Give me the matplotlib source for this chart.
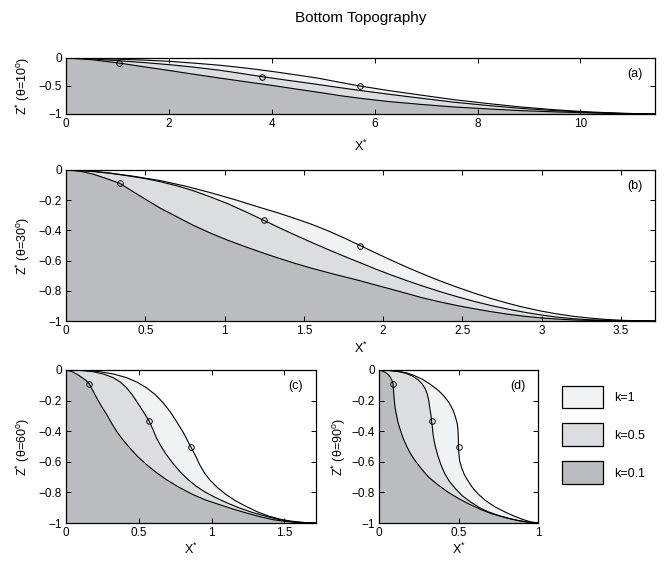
import matplotlib
matplotlib.use("Agg")
import matplotlib.pyplot as plt
from matplotlib.patches import Patch
from matplotlib.ticker import FuncFormatter

plt.rcParams["font.family"] = ["Liberation Sans", "DejaVu Sans"]
plt.rcParams["mathtext.fontset"] = "custom"
plt.rcParams["mathtext.rm"] = "Liberation Sans"
plt.rcParams["mathtext.it"] = "Liberation Sans:italic"
plt.rcParams["axes.linewidth"] = 0.9

# ---- bottom profiles (X*, Z*) for k = 1, 0.5, 0.1 at each wave angle ----
# theta = 10 deg
A_X_K1 = [0, 0.5, 1.0, 1.5, 2.02, 2.5, 3.0, 3.5, 4.01, 4.5, 4.9, 5.3, 5.71, 6.3, 6.92, 7.55,
          8.22, 8.85, 9.51, 10.15, 10.81, 11.45]
A_Z_K1 = [0, -0.005, -0.02, -0.037, -0.06, -0.092, -0.13, -0.18, -0.24, -0.305, -0.36, -0.43,
          -0.5, -0.585, -0.665, -0.745, -0.815, -0.875, -0.925, -0.962, -0.987, -1.0]
A_X_K05 = [0, 0.5, 1.04, 1.5, 2.02, 2.5, 3.0, 3.4, 3.81, 4.3, 4.8, 5.25, 5.72, 6.3, 6.92, 7.55,
           8.22, 8.85, 9.51, 10.15, 10.81, 11.45]
A_Z_K05 = [0, -0.015, -0.05, -0.08, -0.12, -0.165, -0.22, -0.275, -0.333, -0.397, -0.46, -0.52,
           -0.58, -0.65, -0.72, -0.79, -0.85, -0.9, -0.94, -0.97, -0.99, -1.0]
A_X_K01 = [0, 0.5, 1.04, 1.5, 2.02, 2.5, 3.0, 3.5, 4.01, 4.5, 5.0, 5.35, 5.72, 6.3, 6.92, 7.55,
           8.22, 8.85, 9.51, 10.15, 10.81, 11.45]
A_Z_K01 = [0, -0.03, -0.091, -0.155, -0.225, -0.292, -0.36, -0.425, -0.49, -0.558, -0.625, -0.675,
           -0.72, -0.78, -0.83, -0.875, -0.91, -0.94, -0.962, -0.98, -0.992, -1.0]

# theta = 30 deg
B_X_K1 = [0, 0.15, 0.275, 0.43, 0.593, 0.75, 0.911, 1.07, 1.229, 1.34, 1.441, 1.55, 1.653, 1.754,
          1.854, 1.95, 2.042, 2.15, 2.253, 2.36, 2.463, 2.57, 2.674, 2.78, 2.885, 2.99, 3.095,
          3.2, 3.306, 3.41, 3.517, 3.714]
B_Z_K1 = [0, -0.006, -0.02, -0.042, -0.07, -0.106, -0.15, -0.198, -0.25, -0.285, -0.32, -0.36,
          -0.403, -0.45, -0.5, -0.548, -0.593, -0.644, -0.69, -0.735, -0.775, -0.814, -0.849,
          -0.881, -0.909, -0.933, -0.953, -0.969, -0.981, -0.99, -0.996, -1.0]
B_X_K05 = [0, 0.169, 0.28, 0.381, 0.49, 0.593, 0.7, 0.805, 0.91, 1.017, 1.13, 1.246, 1.34, 1.441,
           1.55, 1.653, 1.76, 1.864, 1.95, 2.042, 2.15, 2.253, 2.36, 2.463, 2.57, 2.674, 2.78,
           2.885, 2.99, 3.095, 3.2, 3.306, 3.5, 3.714]
B_Z_K05 = [0, -0.01, -0.022, -0.037, -0.055, -0.077, -0.105, -0.138, -0.178, -0.222, -0.275,
           -0.333, -0.38, -0.429, -0.48, -0.527, -0.574, -0.618, -0.655, -0.692, -0.733, -0.77,
           -0.806, -0.838, -0.869, -0.896, -0.92, -0.941, -0.959, -0.974, -0.985, -0.992, -0.998,
           -1.0]
B_X_K01 = [0, 0.085, 0.169, 0.25, 0.339, 0.41, 0.487, 0.59, 0.699, 0.8, 0.911, 1.02, 1.123, 1.23,
           1.335, 1.44, 1.547, 1.69, 1.831, 1.94, 2.042, 2.15, 2.253, 2.36, 2.463, 2.57, 2.674,
           2.78, 2.885, 2.99, 3.095, 3.2, 3.306, 3.5, 3.714]
B_Z_K01 = [0, -0.007, -0.027, -0.055, -0.088, -0.135, -0.185, -0.25, -0.31, -0.365, -0.418,
           -0.465, -0.505, -0.545, -0.582, -0.617, -0.65, -0.69, -0.727, -0.758, -0.787, -0.818,
           -0.848, -0.874, -0.897, -0.918, -0.937, -0.954, -0.968, -0.979, -0.987, -0.993, -0.996,
           -0.999, -1.0]

# theta = 60 deg
C_X_K1 = [0, 0.1, 0.17, 0.233, 0.33, 0.416, 0.49, 0.553, 0.615, 0.667, 0.715, 0.758, 0.81, 0.856,
          0.89, 0.918, 0.95, 0.986, 1.04, 1.1, 1.165, 1.237, 1.315, 1.397, 1.48, 1.557, 1.64,
          1.718]
C_Z_K1 = [0, -0.002, -0.005, -0.011, -0.027, -0.05, -0.08, -0.116, -0.162, -0.214, -0.272,
          -0.334, -0.415, -0.5, -0.56, -0.618, -0.67, -0.716, -0.768, -0.814, -0.855, -0.891,
          -0.927, -0.956, -0.977, -0.989, -0.997, -1.0]
C_X_K05 = [0, 0.1, 0.187, 0.26, 0.324, 0.375, 0.416, 0.452, 0.484, 0.53, 0.571, 0.597, 0.621,
           0.652, 0.689, 0.733, 0.781, 0.835, 0.895, 0.96, 1.032, 1.11, 1.192, 1.28, 1.374, 1.465,
           1.557, 1.64, 1.718]
C_Z_K05 = [0, -0.003, -0.011, -0.027, -0.05, -0.08, -0.116, -0.158, -0.203, -0.27, -0.333, -0.388,
           -0.443, -0.497, -0.552, -0.608, -0.662, -0.713, -0.76, -0.8, -0.836, -0.87, -0.902,
           -0.931, -0.956, -0.978, -0.993, -0.998, -1.0]
C_X_K01 = [0, 0.04, 0.08, 0.115, 0.14, 0.16, 0.185, 0.21, 0.243, 0.279, 0.312, 0.347, 0.39, 0.438,
           0.492, 0.553, 0.618, 0.689, 0.775, 0.872, 0.96, 1.055, 1.145, 1.237, 1.33, 1.42, 1.51,
           1.603, 1.718]
C_Z_K01 = [0, -0.01, -0.03, -0.053, -0.07, -0.091, -0.135, -0.181, -0.236, -0.29, -0.345, -0.4,
           -0.455, -0.509, -0.565, -0.618, -0.668, -0.716, -0.766, -0.814, -0.85, -0.88, -0.908,
           -0.934, -0.958, -0.978, -0.99, -0.997, -1.0]

# theta = 90 deg
D_X_K1 = [0, 0.05, 0.1, 0.168, 0.22, 0.273, 0.325, 0.377, 0.41, 0.44, 0.465, 0.482, 0.493, 0.497,
          0.499, 0.5, 0.503, 0.507, 0.52, 0.535, 0.56, 0.587, 0.625, 0.671, 0.73, 0.797, 0.85, 0.9,
          0.95, 1.0]
D_Z_K1 = [0, -0.002, -0.006, -0.017, -0.035, -0.061, -0.095, -0.137, -0.172, -0.213, -0.26,
          -0.311, -0.355, -0.398, -0.45, -0.5, -0.55, -0.593, -0.64, -0.68, -0.725, -0.767, -0.812,
          -0.854, -0.895, -0.93, -0.955, -0.975, -0.992, -1.0]
D_X_K05 = [0, 0.06, 0.126, 0.17, 0.21, 0.245, 0.273, 0.292, 0.304, 0.313, 0.319, 0.326, 0.331,
           0.336, 0.34, 0.347, 0.356, 0.37, 0.388, 0.41, 0.44, 0.48, 0.524, 0.575, 0.629, 0.69,
           0.755, 0.82, 0.88, 0.94, 1.0]
D_Z_K05 = [0, -0.003, -0.011, -0.022, -0.039, -0.063, -0.093, -0.125, -0.159, -0.2, -0.246, -0.29,
           -0.333, -0.377, -0.42, -0.465, -0.507, -0.56, -0.615, -0.67, -0.724, -0.775, -0.822,
           -0.862, -0.898, -0.928, -0.952, -0.971, -0.985, -0.995, -1.0]
D_X_K01 = [0, 0.02, 0.042, 0.06, 0.073, 0.082, 0.088, 0.092, 0.096, 0.101, 0.109, 0.12, 0.136,
           0.155, 0.178, 0.2, 0.231, 0.27, 0.314, 0.37, 0.43, 0.5, 0.566, 0.64, 0.713, 0.8, 0.88,
           0.94, 1.0]
D_Z_K01 = [0, -0.006, -0.017, -0.032, -0.05, -0.07, -0.091, -0.14, -0.196, -0.245, -0.289, -0.345,
           -0.398, -0.455, -0.507, -0.55, -0.598, -0.65, -0.702, -0.75, -0.796, -0.84, -0.876,
           -0.912, -0.941, -0.966, -0.985, -0.995, -1.0]

# depth of the marked point on each profile (k = 1, 0.5, 0.1)
A_MARK_Z = [-0.5, -0.333, -0.091]
B_MARK_Z = [-0.5, -0.333, -0.088]
C_MARK_Z = [-0.5, -0.333, -0.091]
D_MARK_Z = [-0.5, -0.333, -0.091]

K_LABELS = ["k=1", "k=0.5", "k=0.1"]
THETAS = [10, 30, 60, 90]
PANEL_TAGS = ["(a)", "(b)", "(c)", "(d)"]
X_MAX = [11.45, 3.714, 1.718, 1.0]
X_TICKS = [[0, 2, 4, 6, 8, 10],
           [0, 0.5, 1, 1.5, 2, 2.5, 3, 3.5],
           [0, 0.5, 1, 1.5],
           [0, 0.5, 1]]
Y_TICKS = [[0, -0.5, -1],
           [0, -0.2, -0.4, -0.6, -0.8, -1],
           [0, -0.2, -0.4, -0.6, -0.8, -1],
           [0, -0.2, -0.4, -0.6, -0.8, -1]]

FILLS = ["#f1f2f4", "#dcdde0", "#bbbcc0"]

W, H = 667, 561
fig = plt.figure(figsize=(W / 100, H / 100), dpi=100)


def frac(left, top, right, bottom):
    return [left / W, 1 - bottom / H, (right - left) / W, (bottom - top) / H]


rects = [frac(66, 58, 655, 114), frac(66, 170, 655, 321),
         frac(66, 370, 316, 523), frac(379, 370, 538, 523)]
xlabel_off = [32, 27, 26, 26]      # px below the axes
ylabel_off = [43, 43, 43, 40]      # px left of the axes

panels = [
    [(A_X_K1, A_Z_K1), (A_X_K05, A_Z_K05), (A_X_K01, A_Z_K01)],
    [(B_X_K1, B_Z_K1), (B_X_K05, B_Z_K05), (B_X_K01, B_Z_K01)],
    [(C_X_K1, C_Z_K1), (C_X_K05, C_Z_K05), (C_X_K01, C_Z_K01)],
    [(D_X_K1, D_Z_K1), (D_X_K05, D_Z_K05), (D_X_K01, D_Z_K01)],
]
marks = [A_MARK_Z, B_MARK_Z, C_MARK_Z, D_MARK_Z]

fmt = FuncFormatter(lambda v, p: ("%g" % v).replace("-", "\u2212"))
TICK_FS = 8.5
LABEL_FS = 9

for i, ax_rect in enumerate(rects):
    ax = fig.add_axes(ax_rect)
    curves = panels[i]
    for (xs, zs), col in zip(curves, FILLS):
        ax.fill_between(xs, zs, -1, facecolor=col, edgecolor="none")
    for (xs, zs), mz in zip(curves, marks[i]):
        ax.plot(xs, zs, color="black", lw=0.8)
        j = zs.index(mz)
        ax.plot(xs[j], zs[j], "o", ms=4, mfc="none", mec="black", mew=0.7)
    ax.set_xlim(0, X_MAX[i])
    ax.set_ylim(-1, 0)
    ax.set_xticks(X_TICKS[i])
    ax.set_yticks(Y_TICKS[i])
    ax.xaxis.set_major_formatter(fmt)
    ax.yaxis.set_major_formatter(fmt)
    ax.tick_params(direction="in", top=True, right=True, length=3.5, width=0.7,
                   labelsize=TICK_FS, pad=3)
    ax_w = ax_rect[2] * W
    ax_h = ax_rect[3] * H
    ax.set_xlabel("X$^{*}$", fontsize=LABEL_FS, va="center")
    ax.xaxis.set_label_coords(0.5, -xlabel_off[i] / ax_h)
    ax.set_ylabel("Z$^{*}$ (θ=%d$^{\\mathrm{o}}$)" % THETAS[i], fontsize=LABEL_FS, va="center")
    ax.yaxis.set_label_coords(-ylabel_off[i] / ax_w, 0.5)
    ax.annotate(PANEL_TAGS[i], xy=(1, 1), xycoords="axes fraction",
                xytext=(-20, -16), textcoords="offset pixels",
                ha="center", va="center", fontsize=LABEL_FS)

fig.text(360.5 / W, 1 - 18 / H, "Bottom Topography", ha="center", va="center", fontsize=11)

handles = [Patch(facecolor=c, edgecolor="black", linewidth=0.9) for c in FILLS]
fs = 9
fs_px = fs * 100 / 72
fig.legend(handles, K_LABELS, loc="upper left", bbox_to_anchor=(562 / W, 1 - 385.5 / H),
           bbox_transform=fig.transFigure, frameon=False, fontsize=fs,
           handlelength=41 / fs_px, handleheight=30.5 / fs_px, labelspacing=15 / fs_px,
           handletextpad=11 / fs_px, borderpad=0, borderaxespad=0)

fig.savefig("out.png", dpi=100)
